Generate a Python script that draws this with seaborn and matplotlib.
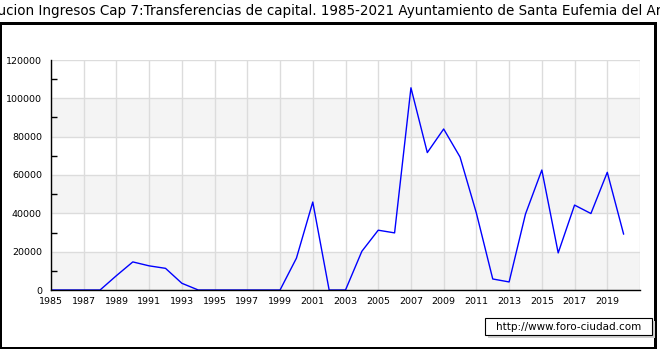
import matplotlib
matplotlib.use("Agg")
import matplotlib.pyplot as plt
import seaborn as sns
import pandas as pd
from matplotlib.patches import Rectangle
from matplotlib.ticker import MultipleLocator

years = list(range(1985, 2021))
values = [0, 0, 0, 0, 7500, 14650, 12600, 11300, 3500, 0,
          0, 0, 0, 0, 0, 16600, 45900, 0, 0, 20200,
          31200, 29800, 105500, 71700, 84000, 69400, 40100, 5750, 4200, 39600,
          62600, 19350, 44300, 39900, 61400, 29100]
title = "Evolucion Ingresos Cap 7:Transferencias de capital. 1985-2021 Ayuntamiento de Santa Eufemia del Arroyo"
xticks = list(range(1985, 2022, 2))
xlabels = [str(y) if y <= 2019 else "" for y in xticks]
yticks = [0, 20000, 40000, 60000, 80000, 100000, 120000]
watermark = "http://www.foro-ciudad.com"

df = pd.DataFrame({"year": years, "value": values})

sns.set_style("white")
plt.rcParams["font.family"] = ["DejaVu Sans"]

W, H = 660, 350
fig = plt.figure(figsize=(W / 100, H / 100), dpi=100)
fig.patch.set_facecolor("white")

def px(x0, y0, x1, y1):
    return [x0 / W, 1 - y1 / H, (x1 - x0) / W, (y1 - y0) / H]

ax = fig.add_axes(px(51, 60, 640, 290))
ax.set_facecolor("white")

# alternating bands
for i, (lo, hi) in enumerate(zip(yticks[:-1], yticks[1:])):
    if i % 2 == 0:
        ax.axhspan(lo, hi, color="#f4f4f4", zorder=0, lw=0)

sns.lineplot(data=df, x="year", y="value", ax=ax, color="#0000ff", lw=1.0, zorder=3)

ax.set_xlim(1985, 2021)
ax.set_ylim(0, 120000)
ax.set_xticks(xticks)
ax.set_xticklabels(xlabels)
ax.set_yticks(yticks)
ax.set_yticklabels([str(v) for v in yticks])
ax.yaxis.set_minor_locator(MultipleLocator(10000))
ax.grid(True, which="major", color="#dcdcdc", lw=1.0, zorder=1)
ax.set_axisbelow(True)
ax.set_xlabel("")
ax.set_ylabel("")
ax.tick_params(axis="both", which="major", direction="in", length=4, width=1,
               color="black", labelsize=6.8, labelcolor="black")
ax.tick_params(axis="y", which="major", pad=6.5)
ax.tick_params(axis="x", which="major", pad=5)
ax.tick_params(axis="y", which="minor", direction="in", length=4, width=1, color="black", left=True)
for s in ["top", "right"]:
    ax.spines[s].set_visible(False)
for s in ["left", "bottom"]:
    ax.spines[s].set_color("black")
    ax.spines[s].set_linewidth(1.0)
    ax.spines[s].set_zorder(5)

# outer frame
for (x0, y0, x1, y1) in [(0, 22, 657, 25), (0, 22, 2, 349), (654, 22, 657, 349), (0, 347, 657, 349)]:
    fig.patches.append(Rectangle((x0 / W, 1 - y1 / H), (x1 - x0) / W, (y1 - y0) / H,
                                 transform=fig.transFigure, color="black", lw=0))

fig.text(0.5, 1 - 11 / H, title, ha="center", va="center", fontsize=9.75, color="black")

# watermark with shadow
fig.patches.append(Rectangle((488 / W, 1 - 338 / H), 167 / W, 17 / H, transform=fig.transFigure,
                             color="#d0d0d0", lw=0))
fig.patches.append(Rectangle((485 / W, 1 - 335 / H), 167 / W, 17 / H, transform=fig.transFigure,
                             facecolor="white", edgecolor="black", lw=0.8))
fig.text(568.5 / W, 1 - 326.5 / H, watermark, ha="center", va="center", fontsize=7.5, color="black")

fig.savefig("out.png", dpi=100)
